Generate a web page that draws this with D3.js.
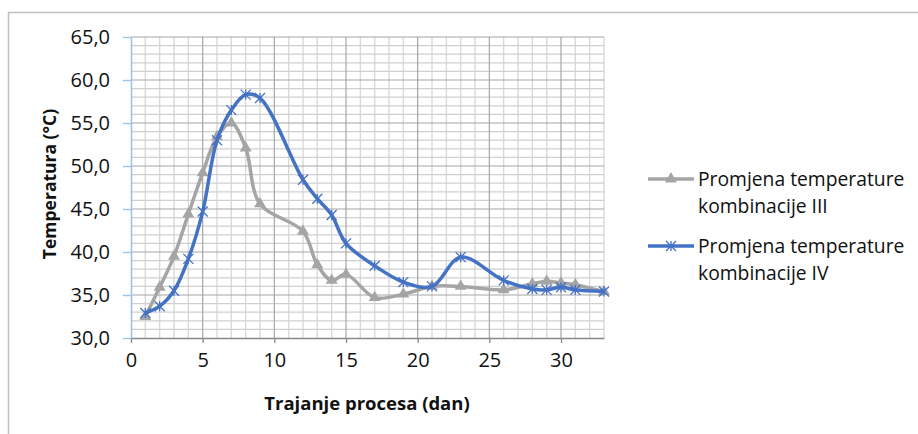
<!DOCTYPE html>
<html>
<head>
<meta charset="utf-8">
<script src="https://cdn.jsdelivr.net/npm/d3@7"></script>
<style>
  body { margin: 0; background: #fff; }
  text { font-family: "Open Sans", sans-serif; fill: #111; }
</style>
</head>
<body>
<div id="vis1"></div>
<script>
// chart size, same as the reference picture
const FRAME_WIDTH = 918;
const FRAME_HEIGHT = 434;
const PLOT = {left: 131, right: 604, top: 37, bottom: 338};

// data
const DAYS = [1, 2, 3, 4, 5, 6, 7, 8, 9, 12, 13, 14, 15, 17, 19, 21, 23, 26, 28, 29, 30, 31, 33];
const TEMP_III = [32.5, 35.9, 39.5, 44.4, 49.2, 53.4, 55.0, 52.1, 45.6, 42.4, 38.5, 36.7, 37.4, 34.7, 35.1, 36.0, 36.0, 35.6, 36.3, 36.6, 36.4, 36.2, 35.4];
const TEMP_IV = [32.9, 33.7, 35.5, 39.2, 44.7, 53.0, 56.5, 58.3, 57.9, 48.4, 46.2, 44.3, 41.0, 38.4, 36.5, 36.0, 39.4, 36.7, 35.7, 35.6, 35.9, 35.6, 35.4];
const X_TICKS = [0, 5, 10, 15, 20, 25, 30];
const Y_TICKS = [30, 35, 40, 45, 50, 55, 60, 65];
const SERIES_NAMES = [["Promjena temperature", "kombinacije III"], ["Promjena temperature", "kombinacije IV"]];
const X_TITLE = "Trajanje procesa (dan)";
const Y_TITLE = "Temperatura (°C)";

const GREY = "#a5a5a5";
const BLUE = "#4472c4";

const FRAME = d3.select("#vis1")
                .append("svg")
                    .attr("width", FRAME_WIDTH)
                    .attr("height", FRAME_HEIGHT);

// chart border (only top and left show in the picture)
FRAME.append("path")
    .attr("d", "M8.5,434 L8.5,12.5 L918,12.5")
    .attr("fill", "none")
    .attr("stroke", "#bfbfbf")
    .attr("stroke-width", 1.5);

const X_SCALE = d3.scaleLinear().domain([0, 33]).range([PLOT.left, PLOT.right]);
const Y_SCALE = d3.scaleLinear().domain([30, 65]).range([PLOT.bottom, PLOT.top]);

// gridlines: minor every 1, major every 5
const xMinor = d3.range(1, 34).filter((d) => d % 5 != 0);
const yMinor = d3.range(31, 65).filter((d) => d % 5 != 0);
const grid = FRAME.append("g");

grid.selectAll(".vminor").data(xMinor).enter().append("line")
    .attr("x1", (d) => X_SCALE(d)).attr("x2", (d) => X_SCALE(d))
    .attr("y1", PLOT.top).attr("y2", PLOT.bottom)
    .attr("stroke", "#d9d9d9").attr("stroke-width", 1.4);
grid.selectAll(".hminor").data(yMinor).enter().append("line")
    .attr("x1", PLOT.left).attr("x2", PLOT.right)
    .attr("y1", (d) => Y_SCALE(d)).attr("y2", (d) => Y_SCALE(d))
    .attr("stroke", "#d0d0d0").attr("stroke-width", 1.2);
grid.selectAll(".vmajor").data(X_TICKS.slice(1)).enter().append("line")
    .attr("x1", (d) => X_SCALE(d)).attr("x2", (d) => X_SCALE(d))
    .attr("y1", PLOT.top).attr("y2", PLOT.bottom)
    .attr("stroke", "#a6a6a6").attr("stroke-width", 1.2);
grid.selectAll(".hmajor").data(Y_TICKS.slice(1)).enter().append("line")
    .attr("x1", PLOT.left).attr("x2", PLOT.right)
    .attr("y1", (d) => Y_SCALE(d)).attr("y2", (d) => Y_SCALE(d))
    .attr("stroke", "#a6a6a6").attr("stroke-width", 1.2);

const fmt = (d) => d3.format(".1f")(d).replace(".", ",");

// x axis
const xAxis = FRAME.append("g")
    .attr("transform", "translate(0," + PLOT.bottom + ")")
    .call(d3.axisBottom(X_SCALE).tickValues(X_TICKS).tickSize(5).tickPadding(10).tickSizeOuter(0));
xAxis.select(".domain").attr("stroke", "#898989").attr("stroke-width", 1.3);
xAxis.selectAll(".tick line").attr("stroke", "#898989").attr("stroke-width", 1.3);
xAxis.selectAll("text").attr("font-size", "20px").attr("fill", "#111")
    .attr("font-family", "Open Sans");

// y axis
const yAxis = FRAME.append("g")
    .attr("transform", "translate(" + PLOT.left + ",0)")
    .call(d3.axisLeft(Y_SCALE).tickValues(Y_TICKS).tickFormat(fmt).tickSize(8).tickPadding(13).tickSizeOuter(0));
yAxis.select(".domain").attr("stroke", "#9dc3e6").attr("stroke-width", 1.6);
yAxis.selectAll(".tick line").attr("stroke", "#9dc3e6").attr("stroke-width", 1.4);
yAxis.selectAll("text").attr("font-size", "20px").attr("fill", "#111")
    .attr("font-family", "Open Sans");

// axis titles
FRAME.append("text")
    .attr("x", 367).attr("y", 410)
    .attr("text-anchor", "middle")
    .attr("font-size", "18.5px").attr("font-weight", "bold")
    .text(X_TITLE);
FRAME.append("text")
    .attr("transform", "translate(56,184) rotate(-90)")
    .attr("text-anchor", "middle")
    .attr("font-size", "17.5px").attr("font-weight", "bold")
    .text(Y_TITLE);

// lines
const points = (vals) => DAYS.map((d, i) => [d, vals[i]]);
const line = d3.line()
    .x((d) => X_SCALE(d[0]))
    .y((d) => Y_SCALE(d[1]))
    .curve(d3.curveCatmullRom.alpha(0.5));

const star = (x, y, r) => "M" + (x - r) + "," + (y - r) + "L" + (x + r) + "," + (y + r) +
    "M" + (x - r) + "," + (y + r) + "L" + (x + r) + "," + (y - r) +
    "M" + x + "," + (y - r) + "L" + x + "," + (y + r);
const tri = d3.symbol().type(d3.symbolTriangle).size(62);

FRAME.append("path")
    .attr("d", line(points(TEMP_III)))
    .attr("fill", "none").attr("stroke", GREY).attr("stroke-width", 3.5)
    .attr("stroke-linejoin", "round");
FRAME.selectAll(".tri").data(points(TEMP_III)).enter().append("path")
    .attr("d", tri)
    .attr("transform", (d) => "translate(" + X_SCALE(d[0]) + "," + Y_SCALE(d[1]) + ")")
    .attr("fill", GREY);

FRAME.append("path")
    .attr("d", line(points(TEMP_IV)))
    .attr("fill", "none").attr("stroke", BLUE).attr("stroke-width", 3.5)
    .attr("stroke-linejoin", "round");
FRAME.selectAll(".star").data(points(TEMP_IV)).enter().append("path")
    .attr("d", (d) => star(X_SCALE(d[0]), Y_SCALE(d[1]), 5))
    .attr("stroke", BLUE).attr("stroke-width", 1.3).attr("fill", "none");

// legend
const LEG_Y = [179, 246];
const legend = FRAME.append("g");
[GREY, BLUE].forEach((c, i) => {
    legend.append("line")
        .attr("x1", 648).attr("x2", 694)
        .attr("y1", LEG_Y[i]).attr("y2", LEG_Y[i])
        .attr("stroke", c).attr("stroke-width", 3.5);
    if (i == 0) {
        legend.append("path").attr("d", tri)
            .attr("transform", "translate(671," + LEG_Y[i] + ")").attr("fill", c);
    } else {
        legend.append("path").attr("d", star(671, LEG_Y[i], 5))
            .attr("stroke", c).attr("stroke-width", 1.3).attr("fill", "none");
    }
    SERIES_NAMES[i].forEach((t, j) => {
        legend.append("text")
            .attr("x", 698).attr("y", LEG_Y[i] + 7 + j * 27)
            .attr("font-size", "19.3px")
            .text(t);
    });
});
</script>
</body>
</html>
